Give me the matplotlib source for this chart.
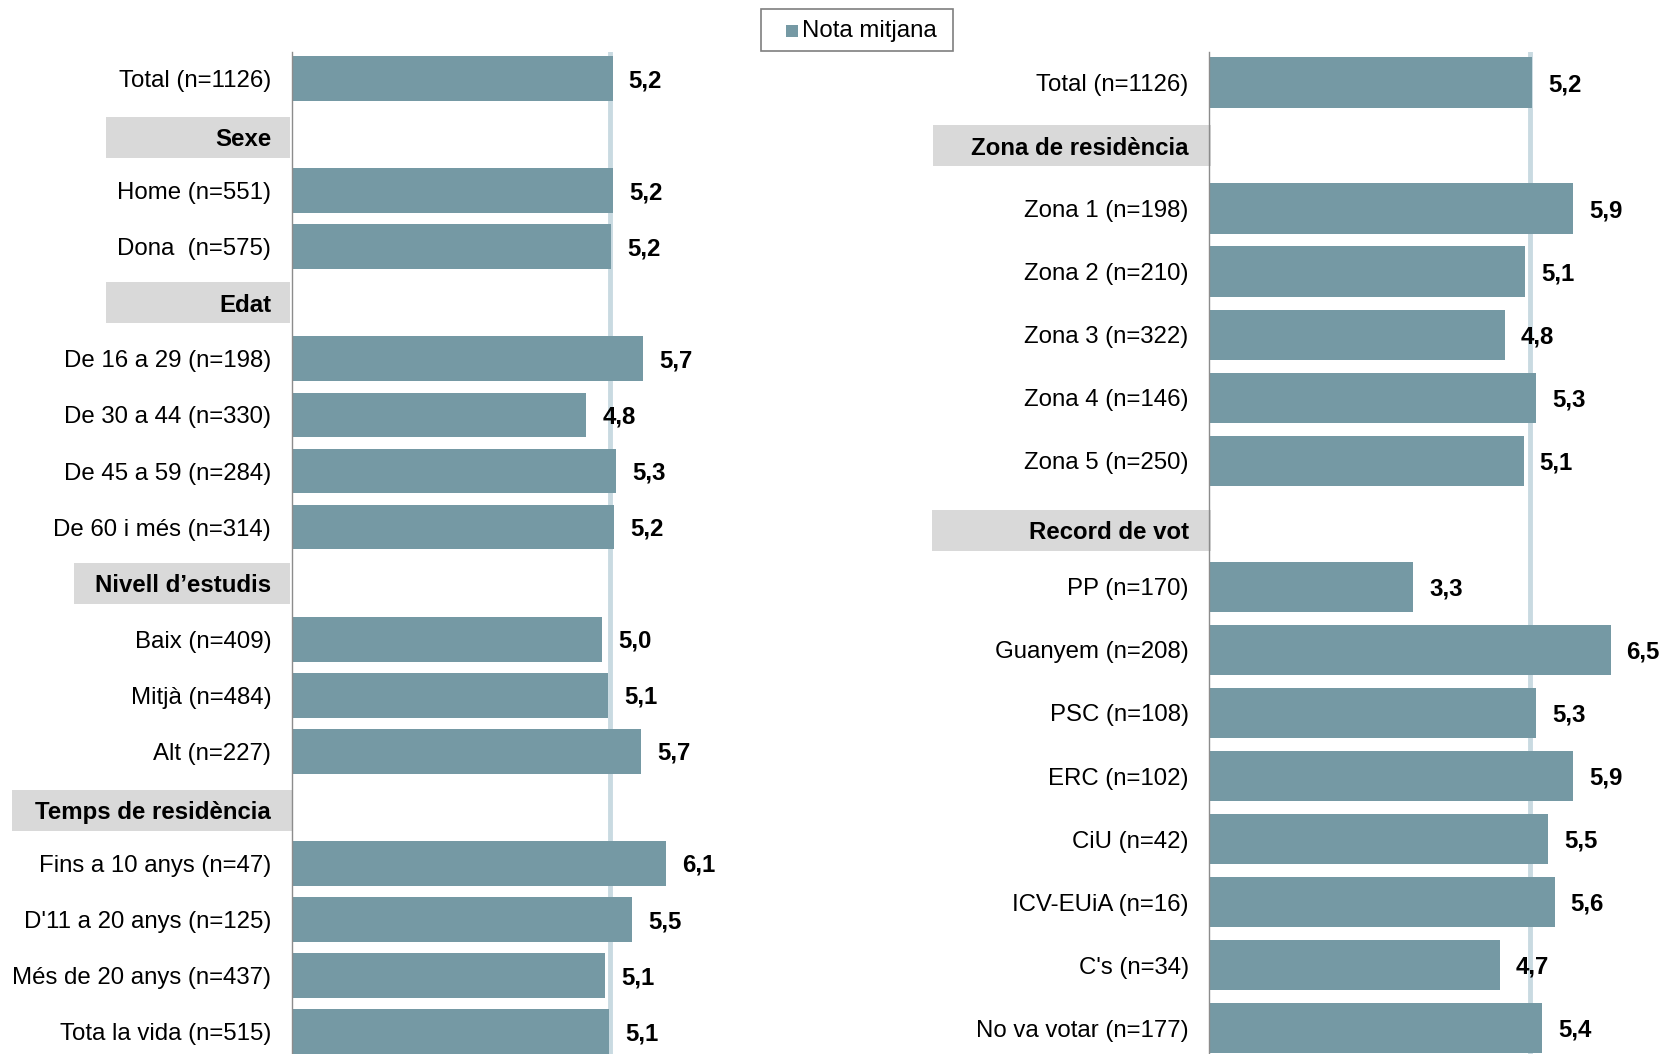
import numpy as np
import matplotlib
matplotlib.use("Agg")
import matplotlib.pyplot as plt
from matplotlib.patches import Rectangle
from matplotlib.transforms import blended_transform_factory

plt.rcParams['font.family'] = ['Liberation Sans', 'DejaVu Sans']

# left panel rows (NaN = group header)
left_labels = ['Total (n=1126)', 'Sexe', 'Home (n=551)', 'Dona  (n=575)', 'Edat',
               'De 16 a 29 (n=198)', 'De 30 a 44 (n=330)', 'De 45 a 59 (n=284)', 'De 60 i més (n=314)',
               'Nivell d’estudis', 'Baix (n=409)', 'Mitjà (n=484)', 'Alt (n=227)',
               'Temps de residència', 'Fins a 10 anys (n=47)', "D'11 a 20 anys (n=125)",
               'Més de 20 anys (n=437)', 'Tota la vida (n=515)']
left_values = [5.20, np.nan, 5.21, 5.17, np.nan,
               5.69, 4.77, 5.26, 5.22,
               np.nan, 5.03, 5.13, 5.66,
               np.nan, 6.07, 5.51, 5.08, 5.14]

# right panel rows
right_labels = ['Total (n=1126)', 'Zona de residència', 'Zona 1 (n=198)', 'Zona 2 (n=210)',
                'Zona 3 (n=322)', 'Zona 4 (n=146)', 'Zona 5 (n=250)', 'Record de vot',
                'PP (n=170)', 'Guanyem (n=208)', 'PSC (n=108)', 'ERC (n=102)', 'CiU (n=42)',
                'ICV-EUiA (n=16)', "C's (n=34)", 'No va votar (n=177)']
right_values = [5.20, np.nan, 5.86, 5.08, 4.76, 5.26, 5.06, np.nan,
                3.28, 6.46, 5.26, 5.86, 5.46, 5.56, 4.68, 5.36]

total_mean = 5.16
series_name = 'Nota mitjana'

BAR = '#7599A4'
BOX = '#D9D9D9'
REF = '#C9DAE1'
FS = 17.3
W, H = 1665, 1054

fig = plt.figure(figsize=(W / 100, H / 100), dpi=100)

# header boxes: (left px, right px) in figure pixels, plus vertical nudge in rows
left_boxes = [(106, 290), (106, 290), (74, 290), (12, 292)]
left_nudge = [0.05, 0.0, 0.0, 0.05]
right_boxes = [(933, 1211), (932, 1211)]
right_nudge = [0.0, 0.1]


def panel(rect, labels, values, ylim, boxes, nudges, box_h):
    ax = fig.add_axes(rect)
    y = np.arange(len(labels), dtype=float)
    hdr = [i for i, v in enumerate(values) if np.isnan(v)]
    ty = y.copy()
    for i, dn in zip(hdr, nudges):
        ty[i] += dn
    ax.axvline(total_mean, color=REF, lw=3.5, zorder=0.8)
    ax.barh(y, values, height=0.8, color=BAR, zorder=2)
    for yi, v in zip(y, values):
        if np.isnan(v):
            continue
        ax.annotate(f'{v:.1f}'.replace('.', ','), (v, yi), xytext=(11.5, -1.5),
                    textcoords='offset points', ha='left', va='center',
                    fontsize=FS, fontweight='bold', annotation_clip=False)
    ax.set_xlim(0, 7)
    ax.set_ylim(*ylim)
    ax.set_yticks(ty)
    ax.set_yticklabels(labels, fontsize=FS)
    ax.tick_params(axis='y', length=0, pad=15)
    ax.set_xticks([])
    for s in ['top', 'right', 'bottom']:
        ax.spines[s].set_visible(False)
    ax.spines['left'].set_color('#8C8C8C')
    ax.spines['left'].set_linewidth(1)
    trans = blended_transform_factory(fig.transFigure, ax.transData)
    tls = ax.get_yticklabels()
    for i, (x0, x1) in zip(hdr, boxes):
        tls[i].set_fontweight('bold')
        ax.add_patch(Rectangle((x0 / W, ty[i] - box_h / 2), (x1 - x0) / W, box_h,
                               transform=trans, facecolor=BOX, edgecolor='none',
                               clip_on=False, zorder=0.5))
    return ax


top = (H - 51.7) / H
panel([292 / W, 0, 431.7 / W, top], left_labels, left_values, (17.4, -0.48),
      left_boxes, left_nudge, 0.73)
panel([1209.5 / W, 0, 434.6 / W, top], right_labels, right_values, (15.41, -0.49),
      right_boxes, right_nudge, 0.65)

# legend box drawn in figure pixels
fig.add_artist(Rectangle((761 / W, 1 - 51 / H), 192 / W, 41.5 / H, transform=fig.transFigure,
                         facecolor='white', edgecolor='#7F7F7F', lw=1.2))
fig.add_artist(Rectangle((786 / W, 1 - 37 / H), 11.7 / W, 12 / H, transform=fig.transFigure,
                         facecolor=BAR, edgecolor='none'))
fig.text(802 / W, 1 - 30.5 / H, series_name, fontsize=FS, ha='left', va='center')

fig.savefig('out.png', dpi=100)
